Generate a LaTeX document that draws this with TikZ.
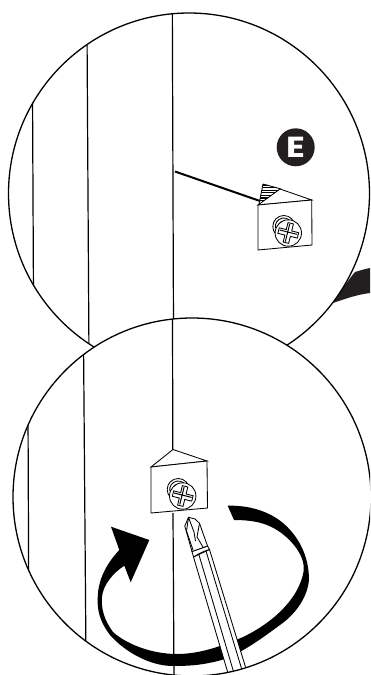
\documentclass[tikz,border=0pt]{standalone}
\usepackage{fontspec}
\setmainfont{Poppins}
\definecolor{ink}{HTML}{231F20}
\tikzset{
  outline/.style={draw=black,line width=1.3pt},
  wall/.style={draw=black,line width=1.2pt},
  thin part/.style={draw=black,line width=0.85pt},
  pics/screw/.style={code={
    \draw[thin part,fill=white] (-4.5,-6.5) circle (11);
    \draw[thin part] ([shift={(-4.5,-6.5)}]170:8.5) arc (170:350:8.5);
    \draw[thin part] ([shift={(-4.5,-6.5)}]190:5.5) arc (190:340:5.5);
    \draw[thin part,fill=white] (0,0) circle (13.2);
    \begin{scope}[rotate=-14]
      \draw[draw=black,line width=0.85pt,fill=white]
        (-2.8,-2.8) -- (-2.8,-10) -- (2.8,-10) -- (2.8,-2.8) -- (10,-2.8) -- (10,2.8)
        -- (2.8,2.8) -- (2.8,10) -- (-2.8,10) -- (-2.8,2.8) -- (-10,2.8) -- (-10,-2.8) -- cycle;
      \draw[line width=1pt] (-9,-.8) -- (9,-.8) (-.8,-9) -- (-.8,9);
    \end{scope}
  }}
}
\begin{document}
\begin{tikzpicture}[x=1pt,y=-1pt]
\clip (0,0) rectangle (370,675);
\fill[white] (0,0) rectangle (370,675);
% curved sweep leaving the upper circle
\fill[ink] (333,303) .. controls (345,285) and (350,278) .. (355,272)
  .. controls (360,270.5) and (365,269) .. (370,268) -- (370,293)
  .. controls (355,295) and (345,299) .. (333,303) -- cycle;
% upper circle
\coordinate (uc) at (189,193.5);
\fill[white] (uc) circle (180.5);
\begin{scope}
  \clip (uc) circle (180.5);
  \draw[wall] (32.5,90) -- (33.5,300);
  \draw[wall] (87,30) -- (89,360);
  \draw[wall] (172.3,0) -- (173.5,330);
\end{scope}
\draw[outline] (uc) circle (180.5);
% upper bracket
\draw[line width=2pt] (175,171.5) -- (260,201);
\begin{scope}
  \clip (263,184) -- (281,189) -- (259,204.5) -- cycle;
  \foreach \yy in {185,187.6,190.2,192.8,195.4,198,200.6,203.2}
    \draw[line width=1.35pt] (250,\yy) -- (290,\yy);
\end{scope}
\draw[thin part] (263,184) -- (259,204) (263,184) -- (281,189);
\draw[thin part,fill=white] (258,205) -- (280,189) -- (311.7,200) -- cycle;
\draw[thin part,fill=white] (258,205) -- (311.7,200) -- (312,245) -- (258,250) -- cycle;
\pic at (288.3,233) {screw};
\node[circle,fill=ink,minimum size=38pt,inner sep=0pt] (badge) at (295.7,147.3) {};
\node[text=white,font=\bfseries\fontsize{29}{29}\selectfont,inner sep=0pt,xscale=1.2,transform shape] (badgeletter) at (badge.center) {E};
% lower circle
\coordinate (lc) at (192,497);
\fill[white] (lc) circle (179);
\begin{scope}
  \clip (lc) circle (179);
  \draw[wall] (28,410) -- (28.7,590);
  \draw[wall] (83.5,340) -- (86,660);
  \draw[wall] (172.5,310) -- (172.8,450);
  \draw[wall] (173,513) -- (174,680);
  % turning arrow
  \fill[black] (111,526.7) -- (149.3,540) -- (130.7,582.3) -- (124.3,565.7)
    .. controls (113,573) and (103,585) .. (102,597)
    .. controls (101,608) and (104,620) .. (113,632)
    .. controls (125,643) and (150,654) .. (177,654)
    .. controls (200,654) and (222,646) .. (243,637)
    .. controls (262,628) and (285,612) .. (297,590)
    .. controls (303,578) and (305,570) .. (303,562)
    .. controls (300,549) and (285,532) .. (267,525)
    .. controls (257,521) and (245,520) .. (234,520)
    -- (227.7,505.7)
    .. controls (250,505) and (270,512) .. (283,523)
    .. controls (298,536) and (309,555) .. (309,580)
    .. controls (307,600) and (293,616) .. (280,625)
    .. controls (265,636) and (245,651) .. (225,659)
    .. controls (205,665) and (190,666) .. (173,666)
    .. controls (150,666) and (125,652) .. (110,635)
    .. controls (100,622) and (97,610) .. (97.7,598)
    .. controls (98,578) and (108,562) .. (119.3,550) -- cycle;
  % screwdriver
  \draw[thin part,fill=white] (193.5,557) -- (230,680) -- (249.5,680) -- (209.5,549.5) -- cycle;
  \draw[thin part] (199,555) -- (236,680) (206,551) -- (245,680);
  \draw[thin part,fill=white] (193.5,557) -- (192,551.5) -- (207.5,546) -- (209.5,549.5)
    .. controls (204,551) and (198,554) .. (193.5,557) -- cycle;
  \draw[thin part,fill=white] (188.5,517.3) -- (195,519) -- (199.5,523.3) -- (207.5,546)
    -- (192,551.5) -- (184.8,526) -- cycle;
  \draw[thin part] (188.5,517.3) -- (186.5,531) -- (193,550)
    (188.5,517.3) -- (194,532) -- (195.5,541) (199.5,523.3) -- (197,537) -- (203,547);
\end{scope}
\draw[outline] (lc) circle (179);
% lower bracket
\draw[thin part,fill=white] (151,467) -- (173,449.5) -- (207,461) -- cycle;
\draw[thin part,fill=white] (151,467) -- (207,461) -- (207.5,508) -- (151,513) -- cycle;
\pic at (182.7,496) {screw};
\end{tikzpicture}
\end{document}
